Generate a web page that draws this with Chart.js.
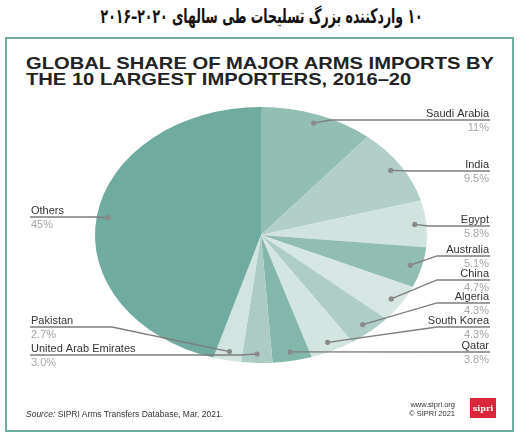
<!DOCTYPE html>
<html>
<head>
<meta charset="utf-8">
<script src="https://cdn.jsdelivr.net/npm/chart.js@4"></script>
<style>
  html, body { margin: 0; padding: 0; background: #fff; }
  body { width: 524px; height: 442px; position: relative; overflow: hidden; font-family: "Liberation Sans", Arial, sans-serif; }
  #chart { position: absolute; left: 0; top: 0; }
  #fa-wrap { position: absolute; left: 0; top: 4px; width: 524px; text-align: center; }
  #fa-title { display: inline-block; font-family: "DejaVu Sans", sans-serif; font-weight: bold; font-size: 20px; color: #111; transform-origin: center; white-space: nowrap; }
  #frame { position: absolute; left: 5px; top: 37px; width: 505px; height: 391px; border: 2px solid #6fab9f; }
  #en-title { position: absolute; left: 26px; top: 56px; font-weight: bold; font-size: 16.5px; line-height: 15.7px; color: #222; white-space: nowrap; transform-origin: left top; }
  #source { position: absolute; left: 26px; top: 409px; font-size: 8.5px; color: #333; }
  #credit { position: absolute; right: 69px; top: 400px; font-size: 7.5px; line-height: 9px; color: #333; text-align: right; }
  #logo { position: absolute; left: 470px; top: 398px; width: 26px; height: 20px; background: #d9263a; color: #fff; font-family: "DejaVu Serif", serif; font-weight: bold; font-size: 8px; line-height: 20px; text-align: center; }
</style>
</head>
<body>
<div id="fa-wrap"><span id="fa-title" dir="rtl">۱۰ واردکننده بزرگ تسلیحات طی سالهای ۲۰۲۰–۲۰۱۶</span></div>
<div id="frame"></div>
<div id="en-title"><span id="en-line1">GLOBAL SHARE OF MAJOR ARMS IMPORTS BY</span><br>THE 10 LARGEST IMPORTERS, 2016–20</div>
<canvas id="chart" width="524" height="442"></canvas>
<div id="source"><i>Source:</i> SIPRI Arms Transfers Database, Mar. 2021.</div>
<div id="credit">www.sipri.org<br>© SIPRI 2021</div>
<div id="logo">sipri</div>
<script>
// importers, clockwise from 12 o'clock
var countries = ["Saudi Arabia", "India", "Egypt", "Australia", "China", "Algeria",
                 "South Korea", "Qatar", "United Arab Emirates", "Pakistan", "Others"];
var shares = [11, 9.5, 5.8, 5.1, 4.7, 4.3, 4.3, 3.8, 3.0, 2.7, 45];
var shareLabels = ["11%", "9.5%", "5.8%", "5.1%", "4.7%", "4.3%", "4.3%", "3.8%", "3.0%", "2.7%", "45%"];
var sliceColors = ["#93beb4", "#b1cfc8", "#d0e3df", "#91bdb3", "#d6e7e3", "#aecdc6",
                   "#d3e5e1", "#84b7ab", "#abcbc4", "#d1e4df", "#6fab9f"];

// where each label sits: side, y of the underline, x where the underline starts
var labelLayout = [
    { side: "right", lineY: 120, elbowX: 330 },
    { side: "right", lineY: 171, elbowX: 410 },
    { side: "right", lineY: 226, elbowX: 428 },
    { side: "right", lineY: 256, elbowX: 437 },
    { side: "right", lineY: 280, elbowX: 437 },
    { side: "right", lineY: 303, elbowX: 437 },
    { side: "right", lineY: 327, elbowX: 437 },
    { side: "right", lineY: 352, elbowX: 437 },
    { side: "left", lineY: 355, elbowX: 240 },
    { side: "left", lineY: 327, elbowX: 112 },
    { side: "left", lineY: 217, elbowX: 95 }
];

var stretchX = 166 / 128; // the pie is drawn as a wide ellipse
var rightEdge = 490;
var leftEdge = 30;

// squeeze / stretch the headings to the widths they have in the original
function fitWidth(el, measured, target) {
    var w = measured.getBoundingClientRect().width;
    el.style.transform = "scaleX(" + (target / w) + ")";
}
fitWidth(document.getElementById("fa-title"), document.getElementById("fa-title"), 322);
fitWidth(document.getElementById("en-title"), document.getElementById("en-line1"), 468);

/**
 * Stretches the pie horizontally around its centre
 */
var ellipsePlugin = {
    id: "ellipse",
    beforeDatasetsDraw(chart) {
        var arc = chart.getDatasetMeta(0).data[0];
        var ctx = chart.ctx;
        ctx.save();
        ctx.translate(arc.x, arc.y);
        ctx.scale(stretchX, 1);
        ctx.translate(-arc.x, -arc.y);
    },
    afterDatasetsDraw(chart) {
        chart.ctx.restore();
    }
};

/**
 * Draws the leader lines, dots and labels for each slice
 */
var leaderPlugin = {
    id: "leaders",
    afterDraw(chart) {
        var ctx = chart.ctx;
        var arcs = chart.getDatasetMeta(0).data;
        ctx.save();
        arcs.forEach((arc, i) => {
            var mid = (arc.startAngle + arc.endAngle) / 2;
            var r = arc.outerRadius * 0.93;
            var px = arc.x + Math.cos(mid) * r * stretchX;
            var py = arc.y + Math.sin(mid) * r;
            var lay = labelLayout[i];
            var endX = lay.side == "right" ? rightEdge : leftEdge;

            ctx.strokeStyle = "#7d7d7d";
            ctx.lineWidth = 1.3;
            ctx.beginPath();
            ctx.moveTo(px, py);
            ctx.lineTo(lay.elbowX, lay.lineY);
            ctx.lineTo(endX, lay.lineY);
            ctx.stroke();

            ctx.fillStyle = "#8a8a8a";
            ctx.beginPath();
            ctx.arc(px, py, 2.6, 0, Math.PI * 2);
            ctx.fill();

            ctx.textAlign = lay.side == "right" ? "right" : "left";
            ctx.textBaseline = "middle";
            var tx = lay.side == "right" ? rightEdge - 1 : leftEdge + 1;
            ctx.font = "11px 'Liberation Sans', Arial, sans-serif";
            ctx.fillStyle = "#333";
            ctx.fillText(countries[i], tx, lay.lineY - 6.5);
            ctx.fillStyle = "#a6a6a6";
            ctx.fillText(shareLabels[i], tx, lay.lineY + 7.5);
        });
        ctx.restore();
    }
};

var ctx = document.getElementById("chart");
var myChart = new Chart(ctx, {
    type: "pie",
    data: {
        labels: countries,
        datasets: [{
            data: shares,
            backgroundColor: sliceColors,
            borderWidth: 0
        }]
    },
    options: {
        responsive: false,
        animation: false,
        layout: {
            padding: { left: 133, right: 135, top: 107, bottom: 79 }
        },
        plugins: {
            legend: { display: false },
            tooltip: { enabled: false }
        }
    },
    plugins: [ellipsePlugin, leaderPlugin]
});
</script>
</body>
</html>
